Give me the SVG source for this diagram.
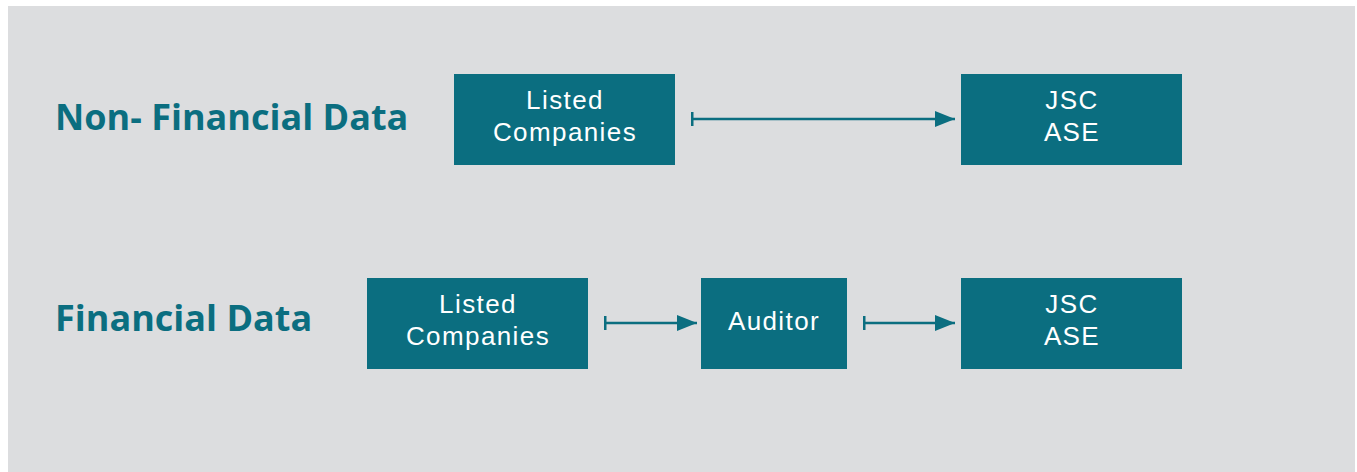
<svg xmlns="http://www.w3.org/2000/svg" width="1357" height="472" viewBox="0 0 1357 472">
<style>
.box{fill:#0b6e80}
.bt{fill:#ffffff;font-family:"Liberation Sans",Arial,sans-serif;font-size:26px;letter-spacing:1.4px;text-anchor:middle}
.hd{fill:#0b6e80;font-family:"Open Sans","Liberation Sans",sans-serif;font-weight:700;font-size:36px}
.cn{stroke:#0b6e80;stroke-width:2.5;fill:none}
</style>
<defs>
<marker id="ah" viewBox="0 0 20 16" refX="20" refY="8" markerWidth="20" markerHeight="16" markerUnits="userSpaceOnUse" orient="auto">
<path d="M0,0 L20,8 L0,16 Z" fill="#0b6e80"/>
</marker>
<marker id="tb" viewBox="0 0 3 14" refX="1.5" refY="7" markerWidth="3" markerHeight="14" markerUnits="userSpaceOnUse" orient="auto">
<rect x="0" y="0" width="3" height="14" fill="#0b6e80"/>
</marker>
</defs>
<rect x="0" y="0" width="1357" height="472" fill="#ffffff"/>
<rect x="8" y="6" width="1347" height="466" fill="#dcdddf"/>
<text class="hd" x="55" y="130">Non- Financial Data</text>
<text class="hd" x="55" y="331">Financial Data</text>
<g id="n1"><rect class="box" x="454" y="74" width="221" height="91"/><text class="bt" x="565" y="109">Listed</text><text class="bt" x="565" y="141">Companies</text></g>
<g id="n2"><rect class="box" x="961" y="74" width="221" height="91"/><text class="bt" x="1072" y="109">JSC</text><text class="bt" x="1072" y="141">ASE</text></g>
<g id="n3"><rect class="box" x="367" y="278" width="221" height="91"/><text class="bt" x="478" y="313">Listed</text><text class="bt" x="478" y="345">Companies</text></g>
<g id="n4"><rect class="box" x="701" y="278" width="146" height="91"/><text class="bt" x="774" y="330">Auditor</text></g>
<g id="n5"><rect class="box" x="961" y="278" width="221" height="91"/><text class="bt" x="1072" y="313">JSC</text><text class="bt" x="1072" y="345">ASE</text></g>
<g id="connectors">
<line class="cn" x1="692" y1="119" x2="955" y2="119" marker-start="url(#tb)" marker-end="url(#ah)"/>
<line class="cn" x1="605" y1="323" x2="697" y2="323" marker-start="url(#tb)" marker-end="url(#ah)"/>
<line class="cn" x1="864" y1="323" x2="955" y2="323" marker-start="url(#tb)" marker-end="url(#ah)"/>
</g>
</svg>
